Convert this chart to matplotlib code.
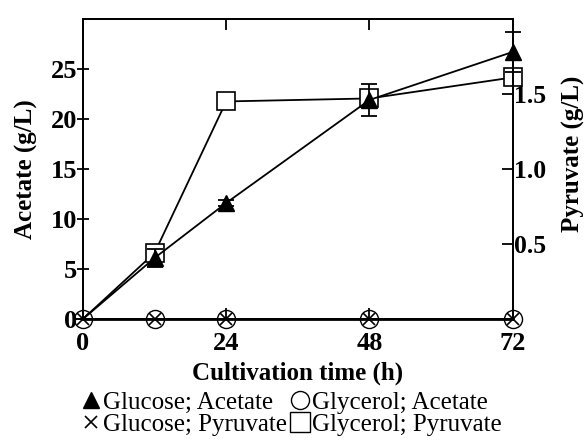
import numpy as np
import matplotlib
matplotlib.use("Agg")
import matplotlib.pyplot as plt
from matplotlib.lines import Line2D

plt.rcParams['font.family'] = ['Liberation Serif', 'DejaVu Serif']

# data
time = [0, 12, 24, 48, 72]
glc_acetate = [0, 6.1, 11.6, 21.9, 26.7]
glc_acetate_err = [0, 0.9, 0.3, 1.6, 2.0]
gly_acetate = [0, 0, 0, 0, 0]
glc_pyruvate = [0, 0, 0, 0, 0]
gly_pyruvate = [0, 0.44, 1.45, 1.47, 1.61]

fig = plt.figure(figsize=(5.84, 4.4), dpi=100)
ax = fig.add_axes([0.142, 0.275, 0.736, 0.682])
ax2 = ax.twinx()

# pyruvate (right axis)
ax2.plot(time, gly_pyruvate, color='black', lw=1.3, marker='s', ms=13,
         mfc='white', mec='black', mew=1.2, markevery=[1, 2, 3, 4],
         clip_on=False, zorder=2)
ax2.plot(time, glc_pyruvate, color='black', lw=2.0, marker='x', ms=8,
         mew=1.2, clip_on=False, zorder=5)

# acetate (left axis)
ax.plot(time, gly_acetate, color='black', lw=1.3, marker='o', ms=13,
        mfc='none', mec='black', mew=1.0, clip_on=False, zorder=3)
ax.errorbar(time, glc_acetate, yerr=glc_acetate_err, color='black', lw=1.3,
            marker='^', ms=11, mfc='black', markevery=[1, 2, 3, 4],
            capsize=6, elinewidth=1.3, capthick=1.3, clip_on=False, zorder=4)

ax.set_zorder(ax2.get_zorder() + 1)
ax.patch.set_visible(False)

ax.set_xlim(0, 72)
ax.set_ylim(0, 30)
ax2.set_ylim(0, 2.0)
ax.set_xticks([0, 24, 48, 72])
ax.set_yticks([0, 5, 10, 15, 20, 25])
ax2.set_yticks([0.5, 1.0, 1.5])
ax2.set_yticklabels(['0.5', '1.0', '1.5'])

for a in (ax, ax2):
    for s in a.spines.values():
        s.set_linewidth(1.3)
ax.tick_params(axis='both', labelsize=19, width=1.3, length=8)
ax.tick_params(axis='y', direction='inout', pad=0)
ax.tick_params(axis='x', direction='in', top=True, pad=9)
ax2.tick_params(axis='y', direction='in', labelsize=18.5, width=1.3, length=8, pad=1)
for lab in ax.get_xticklabels() + ax.get_yticklabels() + ax2.get_yticklabels():
    lab.set_fontweight('bold')

ax.set_xlabel('Cultivation time (h)', fontsize=18, fontweight='bold', labelpad=5)
ax.set_ylabel('Acetate (g/L)', fontsize=18, fontweight='bold', labelpad=9)
ax2.set_ylabel('Pyruvate (g/L)', fontsize=18, fontweight='bold', labelpad=11)
ax2.yaxis.label.set_y(0.55)

handles = [
    Line2D([], [], ls='none', marker='^', ms=12, color='black'),
    Line2D([], [], ls='none', marker='x', ms=8, mew=1.2, color='black'),
    Line2D([], [], ls='none', marker='o', ms=13, mfc='white', mec='black'),
    Line2D([], [], ls='none', marker='s', ms=15, mfc='white', mec='black'),
]
labels = ['Glucose; Acetate', 'Glucose; Pyruvate',
          'Glycerol; Acetate', 'Glycerol; Pyruvate']
fig.legend(handles, labels, loc='upper center', bbox_to_anchor=(0.5, 0.145),
           ncol=2, frameon=False, fontsize=18, handlelength=0.7,
           handletextpad=0.1, columnspacing=0.2, labelspacing=0.0,
           borderpad=0.1)

fig.savefig('out.png', dpi=100)
